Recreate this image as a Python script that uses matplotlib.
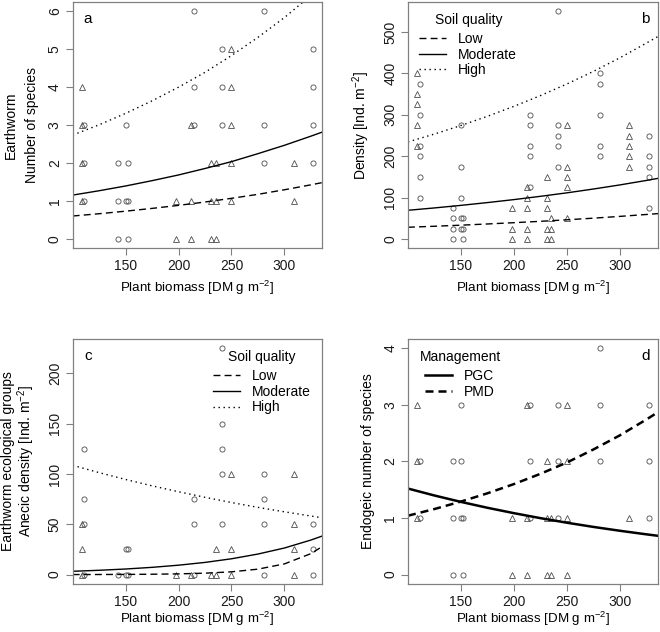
import matplotlib.pyplot as plt

plt.rcParams['font.family'] = ['Liberation Sans', 'DejaVu Sans']
plt.rcParams['mathtext.fontset'] = 'custom'
plt.rcParams['mathtext.rm'] = 'Liberation Sans'
plt.rcParams['mathtext.it'] = 'Liberation Sans:italic'
plt.rcParams['font.size'] = 10

GRIS = '#808080'
PUNTO = '#4d4d4d'

x_lim = (100.3, 335.7)
x_ticks = [150, 200, 250, 300]

# fitted curves, read at these biomass values
fit_x = [100, 125, 150, 175, 200, 225, 250, 275, 300, 325, 336]

a_low = [0.61, 0.67, 0.737, 0.81, 0.89, 0.978, 1.075, 1.18, 1.30, 1.43, 1.49]
a_mod = [1.16, 1.275, 1.40, 1.54, 1.69, 1.86, 2.04, 2.25, 2.47, 2.71, 2.82]
a_high = [2.74, 3.01, 3.31, 3.64, 4.00, 4.39, 4.83, 5.31, 5.83, 6.41, 6.69]

b_low = [28.8, 31.2, 33.8, 36.7, 39.8, 43.1, 46.8, 50.7, 55.0, 59.6, 61.7]
b_mod = [69.7, 75.4, 81.6, 88.3, 95.5, 103.4, 111.8, 121.0, 130.9, 141.7, 146.7]
b_high = [234.6, 253.6, 274.2, 296.4, 320.4, 346.3, 374.4, 404.7, 437.5, 473.0, 489.0]

c_low = [0.05, 0.09, 0.18, 0.36, 0.71, 1.40, 2.75, 5.4, 10.6, 20.8, 28.0]
c_mod = [3.3, 4.28, 5.55, 7.2, 9.34, 12.1, 15.7, 20.4, 26.4, 34.3, 38.4]
c_high = [108.6, 101.3, 94.5, 88.2, 82.3, 76.8, 71.6, 66.8, 62.4, 58.2, 56.4]

d_pgc = [1.52, 1.397, 1.284, 1.18, 1.085, 0.997, 0.916, 0.842, 0.774, 0.711, 0.685]
d_pmd = [1.04, 1.158, 1.29, 1.436, 1.599, 1.78, 1.98, 2.21, 2.46, 2.74, 2.87]

# observations: triangles and circles
a_tri_x = [109, 109, 109, 109, 198, 198, 212, 212, 212, 231, 231, 231, 235, 235, 235,
           250, 250, 250, 250, 250, 309, 309]
a_tri_y = [4, 3, 2, 1, 1, 0, 3, 1, 0, 2, 1, 0, 2, 1, 0,
           5, 4, 3, 2, 1, 2, 1]
a_cir_x = [111, 111, 111, 142.5, 142.5, 142.5, 150, 150, 152, 152, 152, 215, 215, 215,
           241.5, 241.5, 241.5, 281, 281, 281, 327, 327, 327, 327]
a_cir_y = [3, 2, 1, 2, 1, 0, 3, 1, 2, 1, 0, 6, 4, 3,
           5, 4, 3, 6, 3, 2, 5, 4, 3, 2]

b_tri_x = [109] * 5 + [198] * 3 + [212] * 5 + [231] * 5 + [235] * 3 + [250] * 5 + [309] * 5
b_tri_y = [400, 350, 325, 275, 225, 75, 25, 0, 125, 100, 75, 25, 0,
           150, 100, 75, 25, 0, 50, 25, 0, 275, 175, 150, 125, 50,
           275, 250, 225, 200, 175]
b_cir_x = ([111] * 6 + [142.5] * 4 + [150] * 5 + [152] * 3 + [215] * 5 + [241.5] * 5
           + [281] * 5 + [327] * 5)
b_cir_y = [375, 300, 225, 200, 150, 100, 75, 50, 25, 0, 275, 175, 100, 50, 25,
           50, 25, 0, 300, 275, 225, 200, 125, 550, 275, 250, 225, 175,
           400, 375, 300, 225, 200, 250, 200, 175, 150, 75]

c_tri_x = [109] * 3 + [198, 212, 231] + [235] * 2 + [250] * 3 + [309] * 4
c_tri_y = [50, 25, 0, 0, 0, 0, 25, 0, 100, 25, 0, 100, 50, 25, 0]
c_cir_x = ([111] * 4 + [142.5] + [150] * 2 + [152] * 2 + [215] * 3 + [241.5] * 5
           + [281] * 4 + [327] * 3)
c_cir_y = [125, 75, 50, 0, 0, 25, 0, 25, 0, 75, 50, 0, 225, 150, 125, 100, 50,
           100, 75, 50, 0, 50, 25, 0]

d_tri_x = [109] * 3 + [198] * 2 + [212] * 3 + [231] * 3 + [235] * 2 + [250] * 4 + [309]
d_tri_y = [3, 2, 1, 1, 0, 3, 1, 0, 2, 1, 0, 1, 0, 3, 2, 1, 0, 1]
d_cir_x = ([111] * 2 + [142.5] * 3 + [150] * 3 + [152] * 2 + [215] * 3 + [241.5] * 3
           + [281] * 3 + [327] * 3)
d_cir_y = [2, 1, 2, 1, 0, 3, 2, 1, 1, 0, 3, 2, 1, 3, 2, 1, 4, 3, 2, 3, 2, 1]

xlabel = 'Plant biomass [DM g m$^{-2}$]'


def puntos(ax, tx, ty, cx, cy):
    ax.plot(cx, cy, 'o', ms=3.7, mfc='none', mec=PUNTO, mew=0.6, ls='none')
    ax.plot(tx, ty, '^', ms=4.4, mfc='none', mec=PUNTO, mew=0.6, ls='none')


def ejes(ax, ylim, yticks, letra, lado, pad_x):
    ax.set_xlim(*x_lim)
    ax.set_ylim(*ylim)
    ax.set_xticks(x_ticks)
    ax.set_yticks(yticks)
    for s in ax.spines.values():
        s.set_color(GRIS)
        s.set_linewidth(0.9)
    ax.tick_params(color=GRIS, labelcolor='#1a1a1a', length=5, width=0.8, pad=3)
    ax.tick_params(axis='y', labelrotation=90)
    plt.setp(ax.get_yticklabels(), va='center')
    ax.set_xlabel(xlabel, labelpad=pad_x, fontsize=9.6)
    if lado == 'left':
        ax.text(0.06, 0.93, letra, transform=ax.transAxes, fontsize=11, ha='center', va='center')
    else:
        ax.text(0.95, 0.93, letra, transform=ax.transAxes, fontsize=11, ha='center', va='center')


def leyenda(ax, titulo, loc):
    leg = ax.legend(title=titulo, loc=loc, frameon=False,
                    handlelength=1.9, handletextpad=0.9, labelspacing=0.12,
                    borderaxespad=0.4, title_fontsize=10)
    # a bit more room under the title, as in the original
    leg._legend_box.sep = 3.5


def curvas_suelo(ax, low, mod, high):
    ax.plot(fit_x, low, color='black', lw=1.0, dashes=(5, 3), label='Low')
    ax.plot(fit_x, mod, color='black', lw=1.0, label='Moderate')
    ax.plot(fit_x, high, color='black', lw=1.0, dashes=(1, 2.6), label='High')


fig = plt.figure(figsize=(6.6, 6.32), dpi=100)
ax_a = fig.add_axes([0.1106, 0.6071, 0.3775, 0.3897])
ax_b = fig.add_axes([0.6186, 0.6071, 0.3780, 0.3897])
ax_c = fig.add_axes([0.1106, 0.0765, 0.3775, 0.3870])
ax_d = fig.add_axes([0.6186, 0.0765, 0.3780, 0.3870])

# a: number of species
puntos(ax_a, a_tri_x, a_tri_y, a_cir_x, a_cir_y)
curvas_suelo(ax_a, a_low, a_mod, a_high)
ejes(ax_a, (-0.24, 6.24), range(0, 7), 'a', 'left', 4)
ax_a.set_ylabel('Number of species')
ax_a.yaxis.set_label_coords(-0.135, 0.5)
ax_a.text(-0.25, 0.5, 'Earthworm', rotation=90, ha='center', va='center',
          transform=ax_a.transAxes)

# b: density
puntos(ax_b, b_tri_x, b_tri_y, b_cir_x, b_cir_y)
curvas_suelo(ax_b, b_low, b_mod, b_high)
ejes(ax_b, (-22, 572), range(0, 501, 100), 'b', 'right', 4)
ax_b.set_ylabel('Density [Ind. m$^{-2}$]')
ax_b.yaxis.set_label_coords(-0.145, 0.5)
leyenda(ax_b, 'Soil quality', 'upper left')

# c: anecic density
puntos(ax_c, c_tri_x, c_tri_y, c_cir_x, c_cir_y)
curvas_suelo(ax_c, c_low, c_mod, c_high)
ejes(ax_c, (-9, 234), range(0, 201, 50), 'c', 'left', 1)
ax_c.set_ylabel('Anecic density [Ind. m$^{-2}$]')
ax_c.yaxis.set_label_coords(-0.145, 0.5)
ax_c.text(-0.26, 0.5, 'Earthworm ecological groups', rotation=90, ha='center',
          va='center', transform=ax_c.transAxes)
leyenda(ax_c, 'Soil quality', 'upper right')

# d: endogeic species
puntos(ax_d, d_tri_x, d_tri_y, d_cir_x, d_cir_y)
ax_d.plot(fit_x, d_pgc, color='black', lw=1.8, label='PGC')
ax_d.plot(fit_x, d_pmd, color='black', lw=1.8, dashes=(3.2, 2), label='PMD')
ejes(ax_d, (-0.16, 4.16), range(0, 5), 'd', 'right', 1)
ax_d.set_ylabel('Endogeic number of species')
ax_d.yaxis.set_label_coords(-0.135, 0.5)
leyenda(ax_d, 'Management', 'upper left')

fig.savefig('out.png', dpi=100)
